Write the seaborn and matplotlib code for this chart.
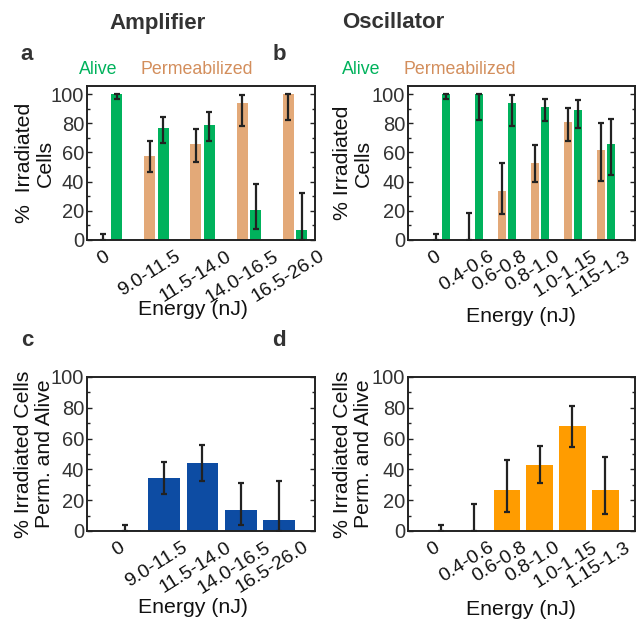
import matplotlib
matplotlib.use("Agg")
import matplotlib.pyplot as plt
import matplotlib.transforms as mtransforms
from matplotlib.ticker import MultipleLocator
import numpy as np
import pandas as pd
import seaborn as sns

# ---------------- data ----------------
amp_energy = ["0", "9.0-11.5", "11.5-14.0", "14.0-16.5", "16.5-26.0"]
osc_energy = ["0", "0.4-0.6", "0.6-0.8", "0.8-1.0", "1.0-1.15", "1.15-1.3"]

amp_perm = [0, 57.5, 65.8, 93.8, 100]
amp_perm_lo = [0, 46.6, 53.4, 78.0, 82.0]
amp_perm_hi = [4.0, 67.8, 76.3, 99.5, 100]
amp_alive = [100, 76.5, 78.8, 20.5, 6.8]
amp_alive_lo = [96.8, 66.4, 67.8, 7.8, 0]
amp_alive_hi = [100, 84.5, 87.7, 38.4, 32.0]

osc_perm = [0, 0, 33.6, 52.7, 81.0, 61.6]
osc_perm_lo = [0, 0, 17.6, 39.7, 67.8, 40.6]
osc_perm_hi = [4.1, 18.7, 53.0, 65.0, 90.4, 80.1]
osc_alive = [100, 100, 93.6, 91.3, 88.8, 65.8]
osc_alive_lo = [96.8, 82.0, 78.3, 81.5, 76.7, 44.5]
osc_alive_hi = [100, 100, 99.5, 96.6, 95.9, 82.9]

amp_both = [0.6, 34.1, 44.1, 13.7, 7.0]
amp_both_lo = [0, 23.9, 32.6, 3.9, 0]
amp_both_hi = [3.7, 44.6, 56.1, 30.9, 32.2]

osc_both = [0, 0, 26.7, 43.0, 68.5, 26.7]
osc_both_lo = [0, 0, 12.4, 30.9, 54.8, 11.0]
osc_both_hi = [3.7, 17.8, 45.9, 55.4, 81.1, 47.8]

status_order = ["Permeabilized", "Alive"]

# ---------------- style ----------------
sns.set_theme(style="white")
plt.rcParams["font.family"] = ["Liberation Sans", "DejaVu Sans"]

GREEN = "#00B25C"
TAN = "#E3A978"
TAN_TXT = "#D38E5C"
BLUE = "#0D4CA3"
ORANGE = "#FF9C00"
TXT = "#333333"
ERR = "#222222"

fig = plt.figure(figsize=(6.4, 6.22), dpi=100)
W, H = 640, 622


def ax_at(l, t, r, b):
    return fig.add_axes([l / W, 1 - b / H, (r - l) / W, (b - t) / H])


ax_a = ax_at(87, 86, 315, 240)
ax_b = ax_at(408, 86, 635, 240)
ax_c = ax_at(87, 377, 315, 531)
ax_d = ax_at(408, 377, 635, 531)


def style_axis(ax, ymax, xlim, labels, ylabel, ylab_x, xlab_y, xlab_x=0.5):
    ax.set_ylim(0, ymax)
    ax.set_xlim(*xlim)
    ax.yaxis.set_major_locator(MultipleLocator(20))
    ax.yaxis.set_minor_locator(MultipleLocator(10))
    ax.tick_params(axis="y", which="both", direction="in", left=True, right=True,
                   labelsize=14.5, labelcolor=TXT, pad=2, color="#222222")
    ax.tick_params(axis="y", which="major", length=3.5, width=1)
    ax.tick_params(axis="y", which="minor", length=2.5, width=1)
    ax.tick_params(axis="x", which="both", bottom=False, top=False, labelsize=14,
                   labelcolor="#111111", pad=1)
    ax.set_xticks(range(len(labels)))
    ax.set_xticklabels(labels, rotation=32, ha="center")
    off = mtransforms.ScaledTranslation(-7 / 100, 2 / 100, fig.dpi_scale_trans)
    for lab in ax.get_xticklabels():
        lab.set_transform(lab.get_transform() + off)
    for s in ax.spines.values():
        s.set_visible(True)
        s.set_color("#222222")
        s.set_linewidth(1.4)
    ax.set_xlabel("Energy (nJ)", fontsize=15.3, color="#111111")
    ax.xaxis.set_label_coords(xlab_x, xlab_y)
    ax.set_ylabel(ylabel, fontsize=15.3, color="#111111", linespacing=1.15)
    ax.yaxis.set_label_coords(ylab_x, 0.5)
    ax.grid(False)


def grouped(ax, cats, perm, alive, lo_p, hi_p, lo_a, hi_a, width, gap):
    df = pd.DataFrame({
        "Energy": cats + cats,
        "Status": ["Permeabilized"] * len(cats) + ["Alive"] * len(cats),
        "Value": perm + alive,
    })
    sns.barplot(data=df, x="Energy", y="Value", hue="Status", hue_order=status_order,
                order=cats, palette={"Permeabilized": TAN, "Alive": GREEN},
                width=width, gap=gap, errorbar=None, ax=ax, legend=False,
                saturation=1, linewidth=0)
    n = len(cats)
    bars = ax.patches[: 2 * n]
    vals = perm + alive
    los = lo_p + lo_a
    his = hi_p + hi_a
    for bar, v, lo, hi in zip(bars, vals, los, his):
        x = bar.get_x() + bar.get_width() / 2
        ax.errorbar([x], [v], yerr=[[v - lo], [hi - v]], fmt="none", ecolor=ERR,
                    elinewidth=1.6, capsize=2.2, capthick=1.6, zorder=5)


def single(ax, cats, vals, lo, hi, color, width):
    df = pd.DataFrame({"Energy": cats, "Value": vals})
    sns.barplot(data=df, x="Energy", y="Value", order=cats, color=color,
                width=width, errorbar=None, ax=ax, saturation=1, linewidth=0)
    for bar, v, l, h in zip(ax.patches[: len(cats)], vals, lo, hi):
        x = bar.get_x() + bar.get_width() / 2
        ax.errorbar([x], [v], yerr=[[v - l], [h - v]], fmt="none", ecolor=ERR,
                    elinewidth=1.6, capsize=2.2, capthick=1.6, zorder=5)


grouped(ax_a, amp_energy, amp_perm, amp_alive, amp_perm_lo, amp_perm_hi,
        amp_alive_lo, amp_alive_hi, width=0.58, gap=0.17)
grouped(ax_b, osc_energy, osc_perm, osc_alive, osc_perm_lo, osc_perm_hi,
        osc_alive_lo, osc_alive_hi, width=0.59, gap=0.15)
single(ax_c, amp_energy, amp_both, amp_both_lo, amp_both_hi, BLUE, 0.82)
single(ax_d, osc_energy, osc_both, osc_both_lo, osc_both_hi, ORANGE, 0.80)

style_axis(ax_a, 105.5, (-0.5, 4.43), amp_energy, "%  Irradiated\nCells",
           -0.14, -0.39, 0.465)
style_axis(ax_b, 105.5, (-1.0, 5.88), osc_energy, "% Irradiated\nCells",
           -0.154, -0.435)
style_axis(ax_c, 100, (-1.0, 4.93), amp_energy, "% Irradiated Cells\nPerm. and Alive",
           -0.145, -0.435, 0.465)
style_axis(ax_d, 100, (-1.0, 5.9), osc_energy, "% Irradiated Cells\nPerm. and Alive",
           -0.154, -0.448)


def ftext(x, y, s, **kw):
    fig.text(x / W, 1 - y / H, s, **kw)


ftext(158, 23, "Amplifier", ha="center", va="center", fontsize=16, fontweight="bold", color=TXT)
ftext(393, 23, "Oscillator", ha="center", va="center", fontsize=16, fontweight="bold", color=TXT)
for x, y, s in [(27, 55, "a"), (279, 55, "b"), (27, 340, "c"), (279, 340, "d")]:
    ftext(x, y, s, ha="center", va="center", fontsize=16, fontweight="bold", color=TXT)
for xo in (0, 263):
    ftext(98 + xo, 70, "Alive", ha="center", va="center", fontsize=12.8, color=GREEN)
    ftext(197 + xo, 70, "Permeabilized", ha="center", va="center", fontsize=12.8, color=TAN_TXT)

fig.savefig("out.png", dpi=100)
